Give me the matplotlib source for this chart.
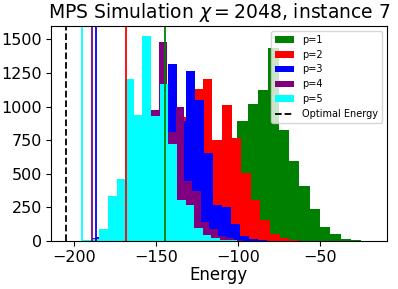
import numpy as np
import matplotlib
matplotlib.use("Agg")
import matplotlib.pyplot as plt
from matplotlib.ticker import MultipleLocator

labels = ["p=1", "p=2", "p=3", "p=4", "p=5"]
colors = ["green", "red", "blue", "purple", "cyan"]

# minimum / maximum energy of each sample set (histogram range, 20 bins)
e_min = [-144.7, -168.6, -187.0, -189.2, -195.1]
e_max = [-18.7, -51.3, -76.9, -87.1, -90.2]
optimal_energy = -204.9

counts_p1 = [3, 10, 30, 80, 180, 330, 560, 894, 1023, 1122, 1437, 824, 596, 412, 236, 101, 51, 18, 5, 3]
counts_p2 = [5, 20, 60, 150, 300, 550, 920, 1135, 1209, 755, 1016, 768, 508, 303, 157, 50, 20, 8, 3, 1]
counts_p3 = [27, 60, 150, 300, 500, 700, 850, 1100, 1318, 890, 1264, 1053, 655, 266, 253, 130, 37, 15, 5, 2]
counts_p4 = [20, 50, 150, 280, 500, 700, 900, 973, 1480, 809, 996, 450, 375, 139, 90, 40, 20, 8, 3, 1]
counts_p5 = [7, 12, 90, 338, 465, 1209, 936, 1524, 934, 1169, 722, 303, 266, 97, 48, 20, 10, 5, 2, 1]
all_counts = [counts_p1, counts_p2, counts_p3, counts_p4, counts_p5]

fig = plt.figure(figsize=(3.98, 2.89), dpi=100)
ax = fig.add_axes([0.128, 0.166, 0.844, 0.744])

for lab, col, lo, hi, cnt in zip(labels, colors, e_min, e_max, all_counts):
    edges = np.linspace(lo, hi, len(cnt) + 1)
    centers = 0.5 * (edges[:-1] + edges[1:])
    ax.hist(centers, bins=edges, weights=cnt, color=col, label=lab)

for col, lo in zip(colors, e_min):
    ax.axvline(lo, color=col, linewidth=1.3)
ax.axvline(optimal_energy, color="black", linestyle="--", linewidth=1.3, label="Optimal Energy")

ax.yaxis.set_major_locator(MultipleLocator(250))
ax.set_title(r"MPS Simulation $\chi = 2048$, instance 7", fontsize=13.5)
ax.set_xlabel("Energy", fontsize=12, labelpad=1)
ax.tick_params(labelsize=11.5, pad=3)
ax.legend(loc="upper right", fontsize=7)

fig.savefig("out.png", dpi=100)
